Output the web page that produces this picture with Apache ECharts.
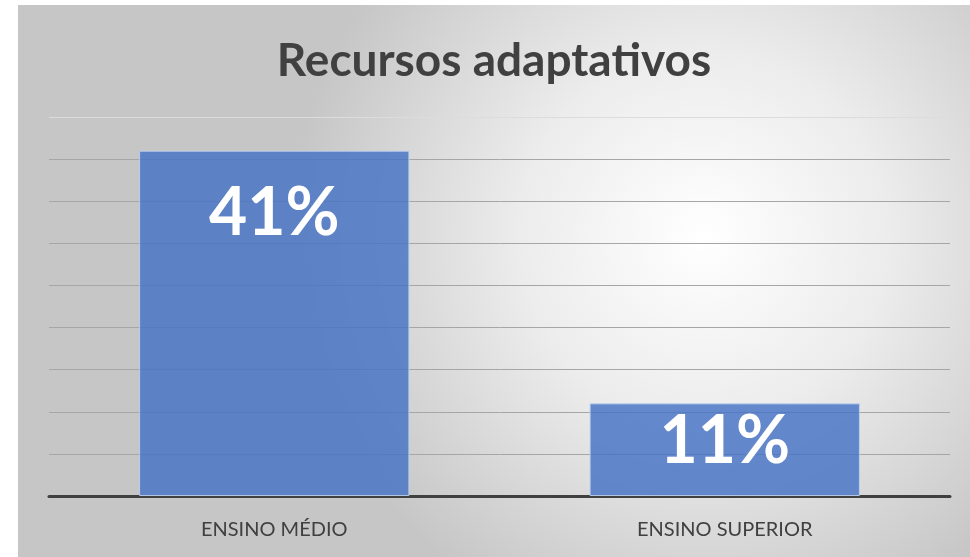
<!DOCTYPE html>
<html>
<head>
<meta charset="utf-8">
<script src="https://cdn.jsdelivr.net/npm/echarts@6/dist/echarts.min.js"></script>
<style>
  html, body { margin: 0; padding: 0; background: #fff; }
  #chart { position: absolute; left: 18px; top: 5px; width: 952px; height: 552px; }
</style>
</head>
<body>
<div id="chart"></div>
<script>
// dados do gráfico
var categories = ['ENSINO MÉDIO', 'ENSINO SUPERIOR'];
var values = [41, 11];
var labelOffsets = [62, 37]; // distância do rótulo a partir do topo da barra

var chart = echarts.init(document.getElementById('chart'));

var seriesData = values.map(function (v, i) {
  return {
    value: v,
    label: { distance: labelOffsets[i] - 32 }
  };
});

var option = {
  backgroundColor: {
    type: 'radial', x: 0.72, y: 0.42, r: 0.75,
    colorStops: [
      { offset: 0, color: '#ffffff' },
      { offset: 0.45, color: '#ececec' },
      { offset: 1, color: '#c6c6c6' }
    ]
  },
  title: {
    text: 'Recursos adaptativos',
    left: 'center',
    top: 28,
    textStyle: { fontFamily: 'Lato', fontWeight: 'bold', fontSize: 46, color: '#404040' }
  },
  grid: { left: 31, right: 20, top: 112, bottom: 61 },
  xAxis: {
    type: 'category',
    data: categories,
    axisLine: { lineStyle: { color: '#404040', width: 3 } },
    axisTick: { show: false },
    axisLabel: { fontFamily: 'Lato', fontSize: 20, color: '#404040', margin: 24 }
  },
  yAxis: {
    type: 'value',
    min: 0, max: 45, interval: 5,
    axisLabel: { show: false },
    axisLine: { show: false },
    splitLine: { lineStyle: { color: ['#a6a6a6', '#a6a6a6', '#a6a6a6', '#a6a6a6', '#a6a6a6', '#a6a6a6', '#a6a6a6', '#a6a6a6', '#a6a6a6', '#dcdcdc'], width: 1 } }
  },
  series: [{
    type: 'bar',
    data: seriesData,
    barWidth: '60%',
    itemStyle: {
      color: 'rgba(68,114,196,0.82)',
      borderColor: 'rgba(190,210,240,0.9)',
      borderWidth: 1
    },
    label: {
      show: true,
      position: 'insideTop',
      formatter: '{c}%',
      fontFamily: 'Lato',
      fontWeight: 'bold',
      fontSize: 66,
      color: '#ffffff'
    }
  }]
};

chart.setOption(option);
</script>
</body>
</html>
